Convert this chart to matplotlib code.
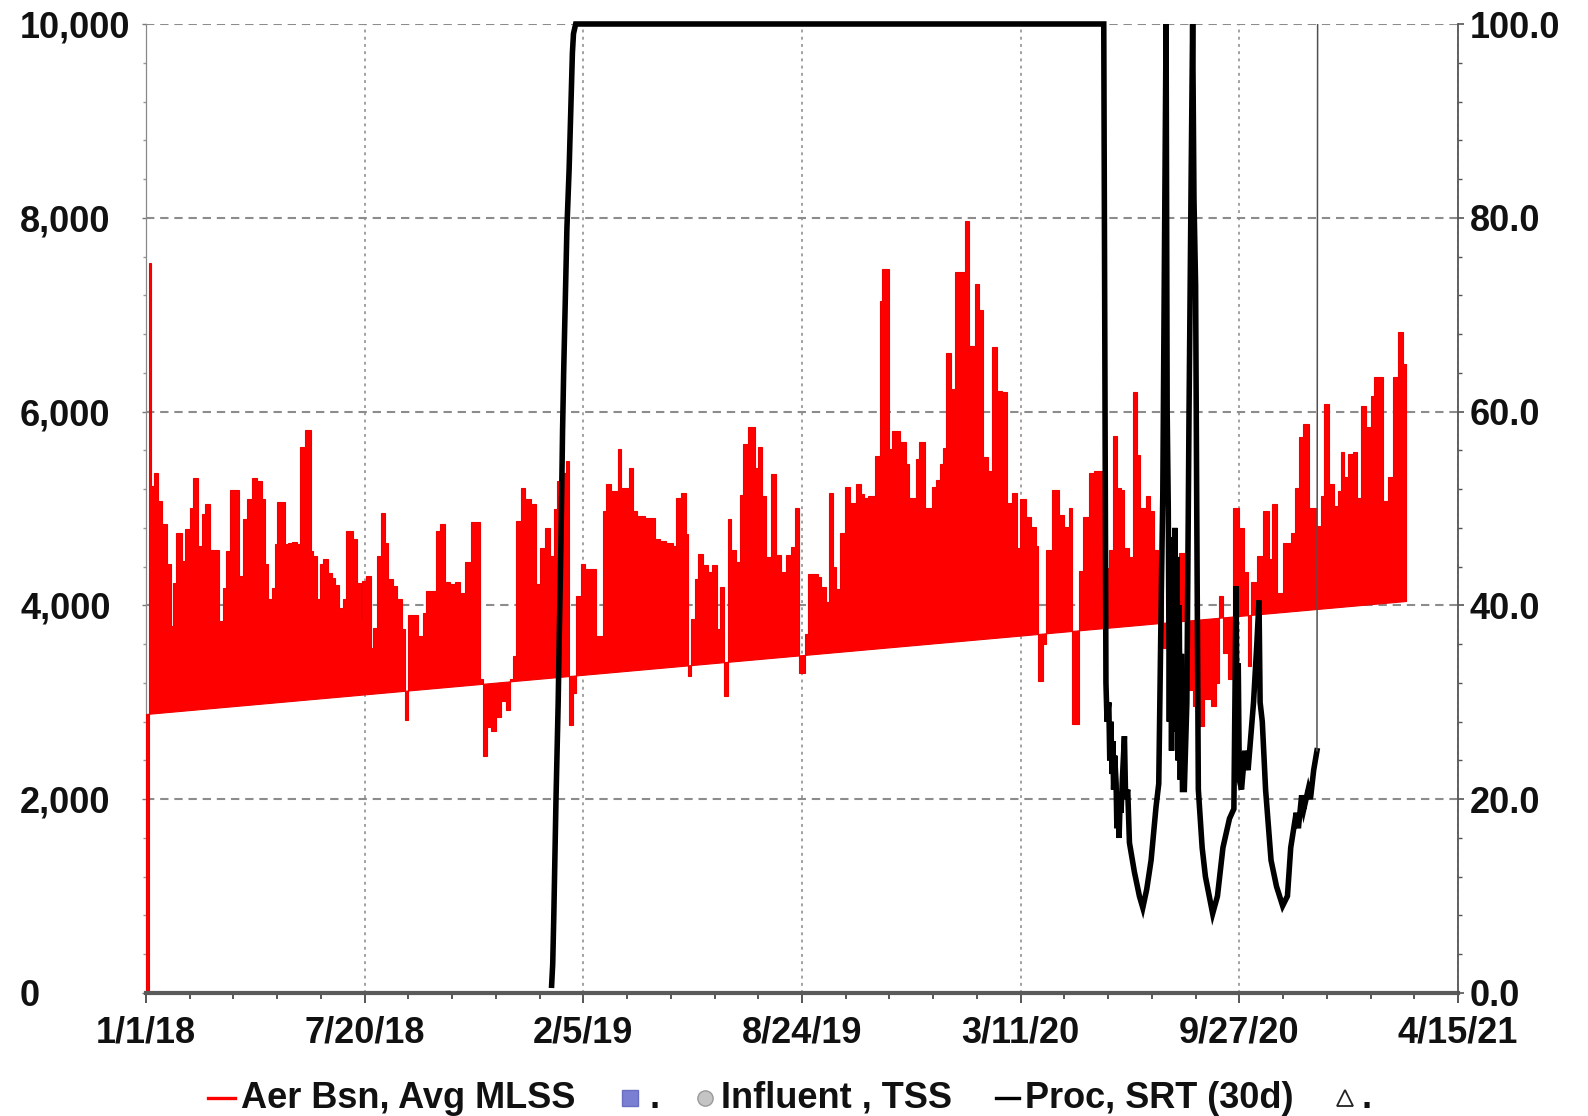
import numpy as np
import pandas as pd
import matplotlib
matplotlib.use("Agg")
import matplotlib.pyplot as plt
import matplotlib.dates as mdates
from matplotlib.lines import Line2D
from matplotlib.ticker import MultipleLocator, FixedLocator

plt.rcParams["font.family"] = ["Liberation Sans", "DejaVu Sans"]

START = pd.Timestamp("2018-01-01")

# ---- Aer Bsn, Avg MLSS (left axis) : day offset from 1/1/18, value ----
mlss_day = [0, 0.05, 2.8, 5.0, 7.3, 11.3, 14.3, 18.9, 22.6, 25, 27.4, 32.6, 35.7, 40.2, 43.3, 47.8,
            50.9, 53.9, 58.5, 67, 70.1, 73.1, 76.8, 85.3, 88.3, 92.6, 96.6, 101.2, 105.7, 108.8,
            111.8, 114.9, 117.9, 120, 127, 130.1, 133.1, 137.7, 141.3, 145.3, 150.5, 152.9, 156,
            159, 162.1, 166.7, 169.7, 172.8, 176.7, 179.8, 182.8, 189.5, 192.6, 196.2, 198, 201.1,
            205.4, 207.8, 211.5, 214.5, 218.5, 221.5, 226.1, 229.7, 233.7, 236.7, 239.8, 248.9,
            253.5, 256.5, 265.7, 268.7, 273.3, 277.9, 282.4, 287, 291.6, 297.7, 305.3, 308.4, 312,
            316, 320.5, 325.1, 329.1, 332.7, 335.8, 338.8, 343.4, 346.4, 352.5, 357.1, 360.2,
            364.7, 369.3, 373, 376, 379, 383.9, 386.9, 390.6, 393.7, 398.2, 401.3, 411.9, 418.1,
            421.1, 425.7, 431.8, 434.8, 441.8, 445.5, 449.1, 456.1, 465.3, 469.8, 475.9, 482,
            485.1, 489.6, 494.2, 495.7, 498.8, 501.8, 504.9, 509.4, 514, 518, 522.2, 525.3, 528.3,
            532.3, 535.3, 539.9, 543, 546, 550.6, 556.7, 559.7, 563.7, 567.4, 571.9, 576.5, 581.1,
            585, 590.2, 593.2, 597.2, 602.4, 605.4, 614.6, 617.6, 621.6, 624.6, 628.3, 631.3, 635,
            639.2, 644.1, 649.6, 654.2, 656.3, 660.3, 666.4, 671, 673.4, 679.5, 682.6, 689.3,
            694.8, 697.8, 703.9, 707, 712.1, 719.1, 722.7, 725.8, 728.8, 731.9, 736.5, 739.5,
            748.7, 752.6, 757.8, 761.7, 766, 770, 773.9, 778.2, 783.1, 787.3, 792.2, 796.5, 799.5,
            805, 809.6, 814.1, 815.6, 820.2, 823.3, 828.8, 835.4, 840, 844.6, 847, 853.7, 856.8,
            862.9, 867.4, 875.1, 881.2, 884.2, 887.9, 891.8, 894.9, 898.8, 902.5, 906.2, 909.2,
            914.7, 918.3, 922.3, 925.3, 929.9, 936, 945.1, 951.3, 957.3, 963.4, 968, 974.1, 978.7,
            981.7, 984.8, 989.3, 993.9, 1000, 1004.6, 1007.6, 1010.7, 1015.8, 1021.9, 1026.8,
            1029.9, 1034.1, 1039.6, 1047.2, 1051.2, 1054.8, 1057.9, 1063.4, 1070.1, 1074.7,
            1077.7, 1082.3, 1086.9, 1089.9, 1093, 1096, 1099.1, 1103.7, 1107.3, 1111.3, 1115.8,
            1120.4, 1123.5, 1131.1, 1135.7, 1140.2, 1144.8, 1149.4, 1152.4]
mlss_val = [2880, 0, 7535, 5233, 5365, 5078, 4837, 4424, 3786, 4235, 4751, 4458, 4786, 5010, 5310,
            4613, 4941, 5044, 4572, 3838, 4183, 4562, 5192, 4303, 4896, 5096, 5310, 5285, 5096,
            4424, 4062, 4183, 4631, 5068, 4631, 4648, 4655, 4631, 5630, 5812, 4562, 4510, 4062,
            4424, 4475, 4337, 4286, 4207, 3975, 4062, 4768, 4682, 4235, 3855, 4252, 4303, 3563,
            3769, 4510, 4958, 4648, 4269, 4200, 4062, 3752, 2822, 3897, 3683, 3917, 4148, 4768,
            4837, 4241, 4217, 4241, 4130, 4448, 4861, 3240, 2450, 2750, 2700, 2850, 3011, 2920,
            3236, 3476, 4871, 5216, 5102, 5044, 4217, 4596, 4802, 4510, 4992, 5285, 5371, 5492,
            2770, 3100, 4096, 4424, 4372, 3683, 4975, 5250, 5181, 5613, 5216, 5423, 4975, 4923,
            4906, 4682, 4665, 4648, 4613, 5113, 5165, 4734, 3270, 3855, 4269, 4534, 4413, 4344,
            4420, 3752, 4186, 3063, 4889, 4568, 4448, 5138, 5664, 5837, 5423, 5630, 5130, 4500,
            5361, 4517, 4344, 4517, 4603, 5010, 3300, 3700, 4327, 4293, 4186, 4031, 5165, 4396,
            4172, 4751, 5217, 5061, 5251, 5148, 5113, 5130, 5544, 7146, 7473, 5613, 5802, 5682,
            5458, 5113, 5509, 5682, 5006, 5223, 5295, 5457, 5621, 6605, 6236, 7436, 7971, 6677,
            7320, 7049, 5530, 5385, 6669, 6217, 6200, 5060, 5158, 4589, 5096, 4915, 4806, 4608,
            3215, 3600, 4572, 5187, 4932, 4806, 5006, 2781, 4350, 4915, 5365, 5385, 4386, 4572,
            5747, 5213, 5195, 4589, 4496, 6200, 5548, 5006, 5134, 4970, 4572, 4100, 3560, 3900,
            4545, 3132, 2959, 2753, 3037, 2959, 3200, 4096, 3511, 3237, 5010, 4803, 4341, 3375,
            4237, 4513, 4975, 4479, 5044, 4131, 4648, 4751, 5216, 5733, 5871, 5010, 4820, 5130,
            6078, 5251, 5027, 5182, 5578, 5320, 5561, 5578, 5113, 6061, 5837, 6165, 6354, 5078,
            5320, 6354, 6825, 6490, 4050]

# ---- Proc, SRT (30d) (right axis) : day offset from 1/1/18, value ----
srt_day = [371, 372, 373, 374, 375, 376, 377, 378, 379, 380, 381, 382, 383, 384, 385, 386, 387,
           388, 389, 390, 391, 393, 876, 878, 879, 880.6, 881.5, 882.5, 883.6, 884.3, 885, 886,
           887.3, 888, 889, 890, 891, 891.8, 893, 894.9, 896, 897.9, 899.5, 904, 908.6, 911.7,
           915.3, 919.3, 923.8, 926.3, 928.4, 930, 931.5, 933, 934, 935, 936, 937, 938, 939,
           940, 941, 942, 943, 944, 945, 946, 947, 948, 949.7, 952, 954, 956, 957.3, 958.5, 960,
           961, 962.5, 966, 969, 975.6, 980, 985, 991, 995, 997, 998, 999, 1000, 1002, 1005,
           1008, 1013, 1016, 1018, 1019, 1021, 1024, 1029, 1034, 1039.6, 1044, 1047, 1052, 1054,
           1057, 1059, 1063, 1065, 1068, 1071, 1071.6]
srt_val = [0.8, 3, 8, 14, 20, 25, 30, 37, 43, 50, 58, 64, 69, 74, 79, 82, 85, 89, 93, 97, 99, 100,
           100, 32, 28, 30, 24, 28, 22.6, 26, 21, 24.5, 21.6, 17, 19, 16, 20, 18.6, 22, 26.5,
           20, 21, 15.5, 12.5, 10, 8.8, 10.7, 13.7, 19.2, 21.6, 39.3, 51.5, 76, 100, 60, 50, 28,
           47, 25, 46, 30, 48, 27, 45, 24, 40, 22, 35, 21, 21, 30, 60, 85, 100, 82, 73, 51, 21,
           15, 12, 8.2, 10, 15, 18, 19, 42, 26, 34, 22, 21, 25, 23, 30, 36, 40.5, 30, 28, 21,
           13.7, 11, 9, 10, 15, 18.6, 17, 20.4, 19, 21, 20, 23, 25, 100]

xtick_labels = ["1/1/18", "7/20/18", "2/5/19", "8/24/19", "3/11/20", "9/27/20", "4/15/21"]
left_ticks = [0, 2000, 4000, 6000, 8000, 10000]
left_tick_labels = ["0", "2,000", "4,000", "6,000", "8,000", "10,000"]
right_ticks = [0, 20, 40, 60, 80, 100]
right_tick_labels = ["0.0", "20.0", "40.0", "60.0", "80.0", "100.0"]
legend_labels = ["Aer Bsn, Avg MLSS", ".", "Influent , TSS", "Proc, SRT (30d)", "."]

W, H = 1588, 1116
fig = plt.figure(figsize=(W / 100, H / 100), dpi=100)
L, R, T, B = 146, 1458, 24, 993
ax = fig.add_axes([L / W, 1 - B / H, (R - L) / W, (B - T) / H])
ax2 = ax.twinx()

# --- MLSS polygon (step) ---
mx = mdates.date2num(START + pd.to_timedelta(mlss_day, unit="D"))
xs = np.repeat(mx, 2)[1:]
ys = np.repeat(np.asarray(mlss_val, float), 2)[:-1]
ax.fill(xs, ys, facecolor="#ff0000", edgecolor="#f00000", lw=0.8, zorder=2.7)

# --- SRT line ---
sx = mdates.date2num(START + pd.to_timedelta(srt_day, unit="D"))
sv = np.asarray(srt_val, float)
ax2.plot(sx[:-1], sv[:-1], color="black", lw=4.0, solid_joinstyle="miter",
         clip_on=False, zorder=3)
ax2.plot(sx[-2:], sv[-2:], color="#505050", lw=1.1, zorder=3)

# --- axes ranges and ticks ---
tick_dates = pd.to_datetime(xtick_labels, format="%m/%d/%y")
xt = mdates.date2num(tick_dates)
ax.set_xlim(xt[0], xt[-1])
ax.set_xticks(xt)
ax.set_xticklabels(xtick_labels)
ax.xaxis.set_minor_locator(FixedLocator(np.linspace(xt[0], xt[-1], 31)))

ax.set_ylim(0, 10000)
ax.set_yticks(left_ticks)
ax.set_yticklabels(left_tick_labels)
ax.yaxis.set_minor_locator(MultipleLocator(400))
ax2.set_ylim(0, 100)
ax2.set_yticks(right_ticks)
ax2.set_yticklabels(right_tick_labels)
ax2.yaxis.set_minor_locator(MultipleLocator(4))

FS = 26
tickc = "#555555"
ax.tick_params(axis="x", which="major", direction="out", length=7, width=1.4,
               color=tickc, labelsize=FS, pad=9)
ax.tick_params(axis="x", which="minor", direction="out", length=4.5, width=1.4, color=tickc)
ax.tick_params(axis="y", which="major", direction="out", length=3, width=1.0,
               color="#777777", labelsize=FS, pad=87.7)
ax.tick_params(axis="y", which="minor", direction="out", length=2, width=1.0, color="#999999")
ax2.tick_params(axis="y", which="major", direction="out", length=4, width=1.2,
                color=tickc, labelsize=FS, pad=4.6)
ax2.tick_params(axis="y", which="minor", direction="out", length=3, width=1.0, color=tickc)
for t in ax.get_yticklabels():
    t.set_horizontalalignment("left")
for t in ax.get_xticklabels() + ax.get_yticklabels() + ax2.get_yticklabels():
    t.set_fontweight("bold")
    t.set_color("#111111")

# grid
ax.set_axisbelow(True)
ax.grid(axis="y", which="major", linestyle=(0, (4, 2.8)), color="#8c8c8c", lw=1.5)
ax.grid(axis="x", which="major", linestyle=(0, (1.6, 2.4)), color="#9a9a9a", lw=1.3)

# spines
for a in (ax, ax2):
    a.spines["top"].set_visible(False)
ax.spines["right"].set_visible(False)
ax2.spines["left"].set_visible(False)
ax2.spines["bottom"].set_visible(False)
ax.spines["left"].set_color("#888888")
ax.spines["left"].set_linewidth(0.9)
ax.spines["bottom"].set_color("#5a5a5a")
ax.spines["bottom"].set_linewidth(3.0)
ax.spines["bottom"].set_zorder(4)
ax2.spines["right"].set_color("#555555")
ax2.spines["right"].set_linewidth(1.3)
ax2.patch.set_visible(False)

# --- legend (manual, figure pixels) ---
ly = 1 - 1098 / H
def fx(px):
    return px / W
fig.add_artist(Line2D([fx(208), fx(235)], [ly, ly], color="#ff0000", lw=2.4))
fig.add_artist(Line2D([fx(630)], [ly], marker="s", ms=11, color="#7b7fd4",
                      markeredgecolor="#6a6ec0", ls="none"))
fig.add_artist(Line2D([fx(705)], [ly], marker="o", ms=11, color="#c4c4c4",
                      markeredgecolor="#9a9a9a", ls="none"))
fig.add_artist(Line2D([fx(996), fx(1019)], [ly, ly], color="black", lw=2.4))
fig.add_artist(Line2D([fx(1345)], [ly], marker="^", ms=12, markerfacecolor="white",
                      markeredgecolor="#222222", mew=1.3, ls="none"))
text_x = [241, 650, 721, 1025, 1362]
for px, lab in zip(text_x, legend_labels):
    fig.text(fx(px), ly, lab, ha="left", va="center", fontsize=FS,
             fontweight="bold", color="#111111")

fig.savefig("out.png", dpi=100, facecolor="white")
